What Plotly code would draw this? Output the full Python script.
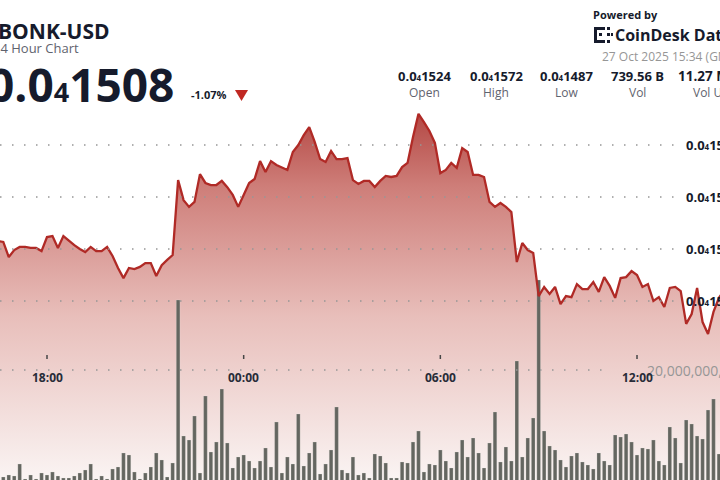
import plotly.graph_objects as go
import pandas as pd

W, H = 720, 480

# ---------------- data ----------------
# 10-minute samples, 26 Oct 2025 16:30 -> 27 Oct 2025 14:40 (visible part of the 24h chart)
times = pd.date_range("2025-10-26 16:30", periods=134, freq="10min")

# price in units of 1e-8 USD (0.0₄1508 = 0.00001508)
price_e8 = [
    1523.1, 1522.7, 1516.9, 1519.6, 1520.8, 1520.8, 1520.4, 1520.4, 1519.2, 1524.6,
    1525.0, 1520.4, 1525.0, 1523.1, 1521.5, 1520.0, 1518.8, 1520.8, 1519.2, 1519.2,
    1520.8, 1517.3, 1512.7, 1508.8, 1512.7, 1512.3, 1513.1, 1514.6, 1514.6, 1509.6,
    1513.8, 1515.8, 1517.7, 1546.5, 1538.8, 1536.2, 1538.1, 1548.8, 1545.4, 1544.6,
    1544.6, 1546.2, 1543.8, 1540.8, 1536.2, 1540.8, 1545.4, 1546.9, 1553.8, 1549.6,
    1553.8, 1552.3, 1551.5, 1550.4, 1557.3, 1560.0, 1563.8, 1566.9, 1561.2, 1554.6,
    1553.5, 1557.7, 1554.6, 1554.6, 1555.0, 1546.5, 1545.0, 1546.2, 1546.2, 1543.8,
    1546.2, 1548.1, 1547.7, 1548.1, 1551.5, 1553.1, 1563.1, 1572.0, 1568.8, 1565.4,
    1560.8, 1549.2, 1550.4, 1553.1, 1551.2, 1558.8, 1557.3, 1548.5, 1548.5, 1547.7,
    1538.1, 1536.2, 1537.7, 1536.2, 1534.2, 1515.0, 1522.3, 1519.6, 1518.5, 1501.9,
    1505.4, 1502.7, 1505.4, 1498.8, 1501.9, 1501.5, 1506.5, 1504.6, 1504.6, 1507.3,
    1503.5, 1509.2, 1505.8, 1501.2, 1508.8, 1509.2, 1511.5, 1510.0, 1505.4, 1506.5,
    1500.0, 1501.5, 1497.7, 1505.0, 1505.4, 1503.8, 1491.2, 1495.0, 1505.0, 1491.9,
    1487.3, 1495.8, 1501.2, 1504.2,
]

# volume per 10 minutes, billions of BONK
volume_bn = [
    2.5, 2.17, 2.5, 2.33, 4.33, 1.83, 2.5, 1.83, 2.83, 2.5,
    3.0, 2.33, 2.0, 2.0, 2.33, 2.83, 3.33, 4.33, 1.83, 2.33,
    1.83, 3.5, 3.83, 6.17, 5.83, 3.0, 1.83, 2.83, 3.83, 6.17,
    5.0, 2.17, 4.5, 31.67, 9.0, 8.33, 12.33, 2.83, 15.67, 6.33,
    8.0, 16.83, 7.83, 3.67, 5.5, 5.83, 4.83, 3.67, 4.83, 7.0,
    3.83, 11.33, 2.83, 5.5, 4.33, 12.67, 4.0, 6.17, 8.0, 2.67,
    4.33, 6.67, 13.83, 3.33, 2.83, 5.5, 2.5, 2.83, 2.0, 6.0,
    5.67, 4.5, 2.0, 2.0, 4.67, 4.5, 8.0, 9.83, 3.0, 4.33,
    4.17, 6.67, 4.83, 3.67, 6.33, 8.33, 5.5, 8.67, 6.17, 3.67,
    7.83, 13.0, 4.67, 7.17, 4.83, 21.5, 5.5, 8.67, 12.0, 35.0,
    9.83, 7.33, 6.67, 5.0, 3.83, 5.67, 6.17, 4.67, 4.17, 3.5,
    6.17, 4.83, 4.17, 9.17, 8.83, 9.33, 8.0, 5.83, 7.0, 6.83,
    8.33, 4.83, 4.17, 10.5, 8.67, 4.5, 11.67, 11.0, 9.0, 8.5,
    13.33, 15.17, 6.0, 7.0,
]

grid_price_e8 = [1560, 1540, 1520, 1500]
grid_price_labels = ["1560", "1540", "1520", "1500"]
grid_volume = [20e9]
grid_volume_labels = ["20,000,000,000"]

tick_times = ["2025-10-26 18:00", "2025-10-27 00:00", "2025-10-27 06:00", "2025-10-27 12:00"]
tick_labels = ["18:00", "00:00", "06:00", "12:00"]

stat_values = ["1524", "1572", "1487", "739.56 B", "11.27 M"]
stat_is_price = [True, True, True, False, False]
stat_labels = ["Open", "High", "Low", "Vol", "Vol USD"]

price = [p * 1e-8 for p in price_e8]
volume = [v * 1e9 for v in volume_bn]

# ---------------- helpers (layout positions in pixels) ----------------
def X(px):
    return px / W

def Y(py):
    return 1 - py / H

def small_price(digits, sub_size):
    # 0.0₄xxxx notation: four zeros after the decimal point shown as a small 4
    return f'0.0<span style="font-size:{sub_size}px">4</span>{digits}'

FONT = "Open Sans"
DARK = "rgb(22,27,44)"
GREY = "rgb(95,99,110)"

fig = go.Figure()

# gradient area under the price
fig.add_trace(go.Scatter(
    x=times, y=price, mode="none", fill="tozeroy", yaxis="y",
    fillgradient=dict(type="vertical",
                      colorscale=[[0, "rgb(250,244,243)"], [0.45, "rgb(232,190,186)"],
                                  [0.8, "rgb(206,126,121)"], [1, "rgb(180,72,68)"]],
                      start=1431e-8, stop=1572e-8),
    hoverinfo="skip", showlegend=False))

# volume bars
fig.add_trace(go.Bar(
    x=times, y=volume, yaxis="y2", width=400000,
    marker=dict(color="rgb(100,102,96)", line=dict(width=0.4, color="rgba(230,230,225,0.6)")),
    showlegend=False))

# price line on top
fig.add_trace(go.Scatter(
    x=times, y=price, mode="lines", yaxis="y3",
    line=dict(color="rgb(176,42,38)", width=2.3),
    showlegend=False))

yr = [1431.15e-8, 1615.77e-8]
fig.update_layout(
    width=W, height=H,
    margin=dict(l=0, r=0, t=0, b=0),
    paper_bgcolor="white", plot_bgcolor="white",
    showlegend=False,
    xaxis=dict(range=["2025-10-26 16:33:58", "2025-10-27 14:31:55"], visible=False),
    yaxis=dict(range=yr, visible=False),
    yaxis2=dict(range=[1.6667e9, 81.6667e9], overlaying="y", visible=False),
    yaxis3=dict(range=yr, overlaying="y", visible=False),
)

shapes = []
for gp in grid_price_e8:
    shapes.append(dict(type="line", xref="paper", yref="y", x0=0, x1=X(676),
                       y0=gp * 1e-8, y1=gp * 1e-8, layer="above",
                       line=dict(color="rgb(150,150,150)", width=1.5, dash="1.5px,10.5px")))
for gv in grid_volume:
    shapes.append(dict(type="line", xref="paper", yref="y2", x0=0, x1=X(612),
                       y0=gv, y1=gv, layer="above",
                       line=dict(color="rgb(150,150,150)", width=1.5, dash="1.5px,10.5px")))
for t in tick_times:
    shapes.append(dict(type="line", xref="x", yref="paper", x0=t, x1=t,
                       y0=Y(359), y1=Y(355), layer="above",
                       line=dict(color="rgb(70,70,70)", width=1.5)))
# red down triangle
shapes.append(dict(type="path", xref="paper", yref="paper", layer="above",
                   path=f"M {X(235)} {Y(90)} L {X(248)} {Y(90)} L {X(241.5)} {Y(101)} Z",
                   fillcolor="rgb(192,40,34)", line=dict(width=0)))
# CoinDesk Data logo mark
logo = [(594, 27, 597, 43), (594, 27, 605, 30), (594, 40, 605, 43),
        (599, 33, 602, 36), (607, 27, 610, 30), (607, 33, 610, 36), (607, 40, 610, 43),
        (611, 33, 613, 36)]
for (x0, y0, x1, y1) in logo:
    shapes.append(dict(type="rect", xref="paper", yref="paper", layer="above",
                       x0=X(x0), x1=X(x1), y0=Y(y1), y1=Y(y0),
                       fillcolor=DARK, line=dict(width=0)))
fig.update_layout(shapes=shapes)

ann = []
def text(t, x, y, size, color=DARK, weight=400, anchor="left", xref="paper", yref="paper"):
    ann.append(dict(text=t, x=x, y=y, xref=xref, yref=yref, xanchor=anchor, yanchor="middle",
                    showarrow=False, font=dict(family=FONT, size=size, color=color, weight=weight)))

text("BONK-USD", X(-4), Y(31), 21, weight=700)
text("24 Hour Chart", X(-9), Y(48), 13, color=GREY)
text(small_price("1508", 27), X(-14), Y(84), 46, weight=700)
text("-1.07%", X(189), Y(95), 11, weight=700)

text("Powered by", X(591), Y(14), 11, weight=700)
text("CoinDesk Data", X(613), Y(35), 16, weight=700)
text("27 Oct 2025 15:34 (GMT)", X(600), Y(56), 12, color="rgb(150,150,150)")

stat_x = [424, 496, 566, 637]
for v, isp, lab, sx in zip(stat_values[:4], stat_is_price, stat_labels[:4], stat_x):
    txt = small_price(v, 8) if isp else v
    text(txt, X(sx), Y(76), 13, weight=700, anchor="center")
    text(lab, X(sx), Y(93), 12, color=GREY, anchor="center")
# last column is cut by the right edge
text(stat_values[4], X(676), Y(76), 13.5, weight=700)
text(stat_labels[4], X(691), Y(93), 12, color=GREY)

for gp, lab in zip(grid_price_e8, grid_price_labels):
    text(small_price(lab, 8), X(684), gp * 1e-8, 13, weight=700, yref="y")
for gv, lab in zip(grid_volume, grid_volume_labels):
    text(lab, X(645), gv, 14, color="rgb(150,150,150)", yref="y2")

for t, lab in zip(tick_times, tick_labels):
    text(lab, t, Y(377), 12, color="rgb(40,44,56)", weight=700, anchor="center", xref="x")

fig.update_layout(annotations=ann)

fig.write_html("out.html", config={"displayModeBar": False},
               post_script="document.body.style.margin='0';document.body.style.padding='0';")
